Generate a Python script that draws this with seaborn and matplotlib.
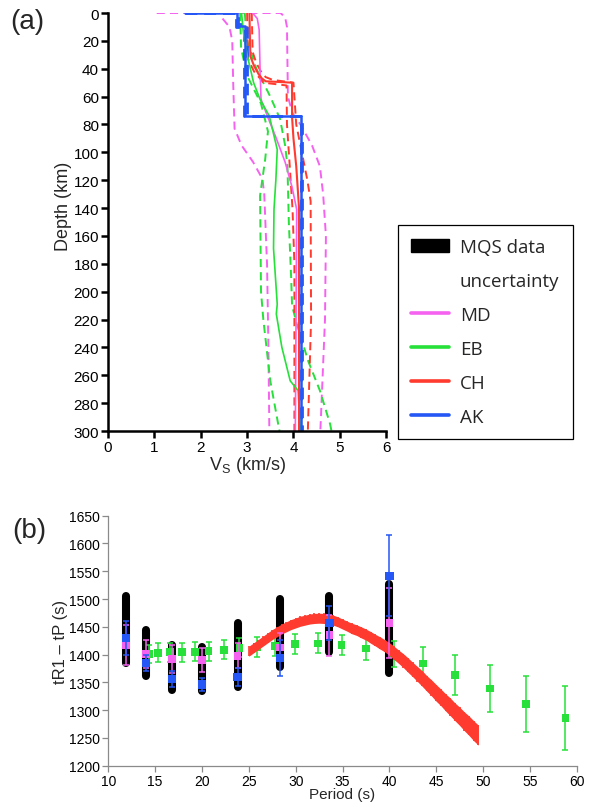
import numpy as np
import pandas as pd
import matplotlib
matplotlib.use("Agg")
import matplotlib.pyplot as plt
import seaborn as sns
from matplotlib.lines import Line2D
from matplotlib.patches import Patch

# ---------------- Panel (a) data: Vs profiles ----------------
ak_depth = [0, 0, 9, 9, 74, 74, 300]
ak_vs = [1.67, 2.78, 2.78, 2.96, 2.96, 4.17, 4.17]
ak_lo_depth = [0, 0, 10, 10, 74, 74, 300]
ak_lo_vs = [1.67, 2.76, 2.76, 2.93, 2.93, 4.16, 4.16]
ak_hi_depth = [0, 0, 8, 8, 74, 74, 300]
ak_hi_vs = [1.67, 2.80, 2.80, 3.00, 3.00, 4.18, 4.18]

md_depth = [0, 4, 12, 40, 62, 75, 90, 107, 125, 141, 200, 300]
md_vs = [3.12, 3.22, 3.26, 3.28, 3.30, 3.45, 3.63, 3.82, 3.97, 4.07, 4.06, 4.04]
md_lo_depth = [4, 10, 20, 50, 83, 95, 107, 119, 130, 180, 240, 300]
md_lo_vs = [2.47, 2.62, 2.68, 2.70, 2.73, 2.88, 3.13, 3.33, 3.37, 3.43, 3.46, 3.48]
md_hi_depth = [0, 0, 3, 10, 60, 72, 80, 95, 110, 130, 160, 220, 300]
md_hi_vs = [1.05, 3.72, 3.82, 3.86, 3.88, 3.98, 4.15, 4.40, 4.57, 4.64, 4.70, 4.68, 4.58]

ch_depth = [0, 31, 38, 44, 47, 49, 50, 75, 90, 110, 140, 300]
ch_vs = [3.05, 3.07, 3.15, 3.25, 3.32, 3.40, 3.97, 3.97, 4.00, 4.06, 4.12, 4.12]
ch_lo_depth = [0, 33, 42, 47, 50, 52, 80, 110, 141, 180, 300]
ch_lo_vs = [3.00, 3.02, 3.15, 3.28, 3.35, 3.85, 3.86, 3.92, 3.98, 4.02, 4.02]
ch_hi_depth = [0, 28, 36, 42, 46, 48, 50, 80, 100, 120, 135, 220, 300]
ch_hi_vs = [3.10, 3.12, 3.20, 3.30, 3.40, 3.55, 4.00, 4.06, 4.18, 4.30, 4.37, 4.38, 4.31]

eb_depth = [0, 14, 30, 50, 62, 74, 98, 120, 141, 169, 209, 216, 240, 264, 271, 300]
eb_vs = [2.88, 2.92, 3.00, 3.14, 3.28, 3.48, 3.65, 3.62, 3.58, 3.57, 3.65, 3.63, 3.75, 3.93, 4.10, 4.15]
eb_lo_depth = [0, 25, 45, 65, 85, 105, 131, 200, 220, 264, 295, 300]
eb_lo_vs = [2.85, 2.87, 3.00, 3.30, 3.45, 3.39, 3.28, 3.30, 3.35, 3.50, 3.67, 3.70]
eb_hi_depth = [0, 20, 40, 60, 76, 95, 110, 150, 190, 210, 223, 250, 271, 295, 300]
eb_hi_vs = [2.95, 3.00, 3.20, 3.50, 3.71, 3.82, 3.87, 3.90, 3.95, 3.97, 4.07, 4.32, 4.57, 4.79, 4.82]

# ---------------- Panel (b) data ----------------
mqs_period = [11.9, 14.05, 16.8, 20.0, 23.8, 28.3, 33.6, 40.0]
mqs_lo = [1384, 1361, 1336, 1335, 1342, 1377, 1405, 1366]
mqs_hi = [1506, 1445, 1417, 1414, 1456, 1500, 1506, 1527]

ak_t = [1430, 1385, 1356, 1346, 1360, 1394, 1457, 1542]
ak_err = [30, 14, 15, 12, 16, 33, 30, 73]
md_t = [1417, 1401, 1392, 1390, 1398, 1413, 1435, 1457]
md_err = [36, 26, 25, 22, 22, 25, 37, 63]

eb_period = [14.3, 15.35, 16.6, 17.85, 19.25, 20.7, 22.35, 24.0, 25.9, 27.8,
             29.9, 32.4, 34.9, 37.55, 40.45, 43.6, 47.0, 50.7, 54.6, 58.8]
eb_t = [1401, 1403, 1404, 1404, 1405, 1406, 1409, 1412, 1413, 1416,
        1419, 1420, 1418, 1411, 1401, 1384, 1363, 1339, 1311, 1286]
eb_err = [17, 17, 17, 17, 17, 17, 17, 17, 18, 18,
          18, 18, 18, 21, 23, 29, 36, 42, 51, 58]

ch_period = [25.0, 25.5, 26.0, 26.5, 27.0, 27.5, 28.0, 28.5, 29.0, 29.5,
             30.0, 30.5, 31.0, 31.5, 32.0, 32.5, 33.0, 33.5, 34.0, 34.5,
             35.0, 35.5, 36.0, 36.5, 37.0, 37.5, 38.0, 38.5, 39.0, 39.5,
             40.0, 40.5, 41.0, 41.5, 42.0, 42.5, 43.0, 43.5, 44.0, 44.5,
             45.0, 45.5, 46.0, 46.5, 47.0, 47.5, 48.0, 48.5, 49.0, 49.5]
ch_t = [1406, 1412, 1418, 1424, 1430, 1436, 1441, 1446, 1450, 1454,
        1457, 1460, 1462, 1464, 1465, 1465.5, 1465, 1464, 1462, 1459,
        1455, 1451, 1447, 1444, 1440, 1436, 1431, 1426, 1421, 1416,
        1410, 1403, 1396, 1389, 1381, 1373, 1365, 1357, 1348, 1340,
        1331, 1323, 1314, 1306, 1297, 1289, 1280, 1272, 1263, 1255]
ch_hw = [9, 9, 9, 9, 9, 9, 9, 9, 9, 9,
         9, 9, 9, 9, 9, 9, 9, 9, 9, 9,
         9, 9, 9.5, 9.5, 10, 10, 10.5, 10.5, 11, 11,
         11.5, 12, 12, 12.5, 13, 13, 13.5, 14, 14, 14.5,
         15, 15, 15.5, 16, 16, 16.5, 17, 17.5, 18, 18]

# ---------------- Style ----------------
sns.set_theme(style="white")
plt.rcParams['font.family'] = ['Liberation Sans', 'DejaVu Sans']
plt.rcParams['mathtext.fontset'] = 'custom'
plt.rcParams['mathtext.rm'] = 'Liberation Sans'
plt.rcParams['mathtext.it'] = 'Liberation Sans:italic'

C_MD = '#F562F0'
C_EB = '#27E03A'
C_CH = '#FF3A2E'
C_AK = '#2457F5'
DASH = (0, (4.2, 2.6))

fig = plt.figure(figsize=(5.93, 8.03), dpi=100)
axA = fig.add_axes([108/593, 1-432/803, (386.2-108)/593, (432-14)/803])
axB = fig.add_axes([108.3/593, 1-766.7/803, (576.7-108.3)/593, (766.7-516.7)/803])


def prof(ax, vs, depth, color, dashed=False, lw=1.5):
    df = pd.DataFrame({'vs': vs, 'depth': depth})
    sns.lineplot(data=df, x='vs', y='depth', sort=False, estimator=None,
                 color=color, lw=lw, linestyle=DASH if dashed else '-', ax=ax)


# dashed uncertainty bounds
prof(axA, md_lo_vs, md_lo_depth, C_MD, True, 1.4)
prof(axA, md_hi_vs, md_hi_depth, C_MD, True, 1.4)
prof(axA, eb_lo_vs, eb_lo_depth, C_EB, True, 1.4)
prof(axA, eb_hi_vs, eb_hi_depth, C_EB, True, 1.4)
prof(axA, ch_lo_vs, ch_lo_depth, C_CH, True, 1.4)
prof(axA, ch_hi_vs, ch_hi_depth, C_CH, True, 1.4)
prof(axA, ak_lo_vs, ak_lo_depth, C_AK, True, 2.0)
prof(axA, ak_hi_vs, ak_hi_depth, C_AK, True, 2.0)
# best models
prof(axA, md_vs, md_depth, C_MD, False, 1.2)
prof(axA, eb_vs, eb_depth, C_EB, False, 1.2)
prof(axA, ch_vs, ch_depth, C_CH, False, 1.5)
prof(axA, ak_vs, ak_depth, C_AK, False, 1.8)

axA.set_xlim(0, 6)
axA.set_ylim(300, 0)
axA.set_xticks(range(0, 7))
axA.set_yticks(range(0, 301, 20))
for s in ['top', 'right']:
    axA.spines[s].set_visible(False)
for s in ['left', 'bottom']:
    axA.spines[s].set_color('black')
    axA.spines[s].set_linewidth(1.8)
axA.tick_params(axis='both', direction='out', length=5, width=1.8,
                colors='black', labelsize=11, pad=1.5, left=True, bottom=True)
axA.set_xlabel(r'$\mathregular{V_S}$ (km/s)', fontsize=13, labelpad=0)
axA.set_ylabel('Depth (km)', fontsize=13)
axA.yaxis.set_label_coords(-0.13, 0.54)

handles = [Patch(facecolor='black', edgecolor='black'),
           Line2D([], [], color='none'),
           Line2D([], [], color=C_MD, lw=2.6),
           Line2D([], [], color=C_EB, lw=2.6),
           Line2D([], [], color=C_CH, lw=2.6),
           Line2D([], [], color=C_AK, lw=2.6)]
labels = ['MQS data', 'uncertainty', 'MD', 'EB', 'CH', 'AK']
leg = fig.legend(handles, labels, loc='upper left',
                 bbox_to_anchor=(398/593, 1-226/803), frameon=True,
                 fancybox=False, edgecolor='black', framealpha=1,
                 prop={'family': ['Open Sans', 'DejaVu Sans'], 'size': 13.5},
                 handlelength=2.0, handletextpad=0.6, labelspacing=0.85,
                 borderpad=0.7, borderaxespad=0)
leg.get_frame().set_linewidth(0.9)

# ---------------- Panel (b) ----------------
bars = axB.vlines(mqs_period, mqs_lo, mqs_hi, color='black', lw=5.8, zorder=2)
bars.set_capstyle('round')

axB.errorbar(eb_period, eb_t, yerr=eb_err, fmt='none', ecolor=C_EB,
             elinewidth=1.1, capsize=2.2, capthick=1.1, zorder=3)
sns.scatterplot(x=eb_period, y=eb_t, marker='s', s=32, color=C_EB,
                edgecolor='none', linewidth=0, ax=axB, zorder=3)

ch_lo = np.array(ch_t) - np.array(ch_hw)
ch_hi = np.array(ch_t) + np.array(ch_hw)
axB.fill_between(ch_period, ch_lo, ch_hi, color=C_CH, lw=0, zorder=4)
axB.vlines(ch_period, ch_lo, ch_hi, color=C_CH, lw=1.2, zorder=4)

axB.errorbar(mqs_period, md_t, yerr=md_err, fmt='none', ecolor=C_MD,
             elinewidth=1.1, capsize=2.2, capthick=1.1, zorder=5)
sns.scatterplot(x=mqs_period, y=md_t, marker='s', s=30, color=C_MD,
                edgecolor='none', linewidth=0, ax=axB, zorder=5)
axB.errorbar(mqs_period, ak_t, yerr=ak_err, fmt='none', ecolor=C_AK,
             elinewidth=1.1, capsize=2.2, capthick=1.1, zorder=6)
sns.scatterplot(x=mqs_period, y=ak_t, marker='s', s=36, color=C_AK,
                edgecolor='none', linewidth=0, ax=axB, zorder=6)

axB.set_xlim(10, 60)
axB.set_ylim(1200, 1650)
axB.set_xticks(range(10, 61, 5))
axB.set_yticks(range(1200, 1651, 50))
for s in ['top', 'right']:
    axB.spines[s].set_visible(False)
for s in ['left', 'bottom']:
    axB.spines[s].set_color('#8a8a8a')
    axB.spines[s].set_linewidth(0.9)
axB.tick_params(axis='both', direction='out', length=4, width=0.9,
                color='#8a8a8a', labelcolor='black', labelsize=10, pad=2,
                left=True, bottom=True)
axB.set_xlabel('Period (s)', fontsize=11, labelpad=-1)
axB.set_ylabel('tR1 \u2013 tP (s)', fontsize=12)
axB.yaxis.set_label_coords(-0.086, 0.5)

fig.text(10/593, 1-22/803, '(a)', fontsize=20, va='center', ha='left')
fig.text(12/593, 1-531/803, '(b)', fontsize=20, va='center', ha='left')

fig.savefig('out.png', dpi=100)
